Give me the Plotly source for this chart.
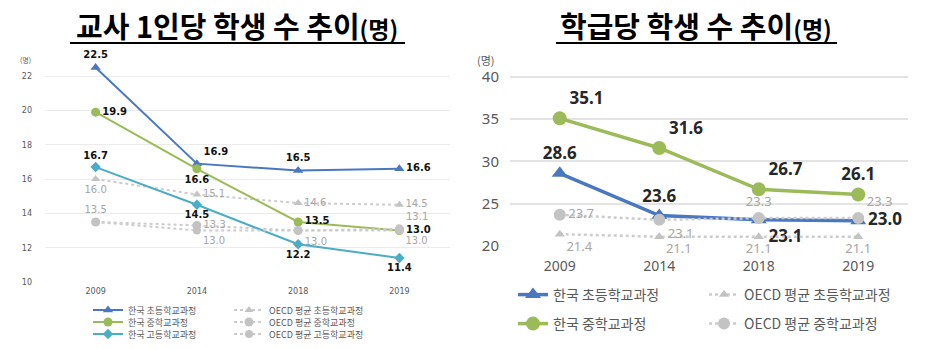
import plotly.graph_objects as go

# ---------------- data ----------------
years = ["2009", "2014", "2018", "2019"]

# left chart: students per teacher
kor_elem_t = [22.5, 16.9, 16.5, 16.6]
kor_mid_t = [19.9, 16.6, 13.5, 13.0]
kor_high_t = [16.7, 14.5, 12.2, 11.4]
oecd_elem_t = [16.0, 15.1, 14.6, 14.5]
oecd_mid_t = [13.5, 13.3, 13.0, 13.1]
oecd_high_t = [13.5, 13.0, 13.0, 13.0]
oecd_high_t_labels = ["", "13.0", "", "13.0"]

# right chart: students per class
kor_elem_c = [28.6, 23.6, 23.1, 23.0]
kor_mid_c = [35.1, 31.6, 26.7, 26.1]
oecd_elem_c = [21.4, 21.1, 21.1, 21.1]
oecd_mid_c = [23.7, 23.1, 23.3, 23.3]

left_ticks = [10, 12, 14, 16, 18, 20, 22]
right_ticks = [20, 25, 30, 35, 40]

# ---------------- styles ----------------
BLUE = "#4a78c0"
GREEN = "#9bbb59"
TEAL = "#4bacc6"
GRAY_M = "#c3c3c3"
GRAY_L = "#cccccc"
GRAY_T = "#a6a6a6"
KFONT = "Noto Sans CJK KR"
W, H = 933, 349

def fmt(v):
    return [f"{x:.1f}" for x in v]

fig = go.Figure()

# left chart font styles
lb = dict(family="DejaVu Sans", size=10, color="#111111", weight="bold")
lg = dict(family="DejaVu Sans", size=10, color=GRAY_T)

# left traces (interleaved order for legend rows)
fig.add_trace(go.Scatter(x=years, y=kor_elem_t, name="한국 초등학교과정", mode="lines+markers+text",
    line=dict(color=BLUE, width=2), marker=dict(symbol="triangle-up", size=9, color=BLUE),
    text=fmt(kor_elem_t), textposition=["top center", "top right", "top center", "middle right"],
    textfont=lb, cliponaxis=False, xaxis="x", yaxis="y", legend="legend"))
fig.add_trace(go.Scatter(x=years, y=oecd_elem_t, name="OECD 평균 초등학교과정", mode="lines+markers+text",
    line=dict(color=GRAY_L, width=2, dash="dot"), marker=dict(symbol="triangle-up", size=8, color=GRAY_M),
    text=fmt(oecd_elem_t), textposition=["bottom center", "middle right", "middle right", "middle right"],
    textfont=lg, cliponaxis=False, xaxis="x", yaxis="y", legend="legend"))
fig.add_trace(go.Scatter(x=years, y=kor_mid_t, name="한국 중학교과정", mode="lines+markers+text",
    line=dict(color=GREEN, width=2), marker=dict(symbol="circle", size=9, color=GREEN),
    text=fmt(kor_mid_t), textposition=["middle right", "bottom center", "middle right", "middle right"],
    textfont=lb, cliponaxis=False, xaxis="x", yaxis="y", legend="legend2"))
fig.add_trace(go.Scatter(x=years, y=oecd_mid_t, name="OECD 평균 중학교과정", mode="lines+markers+text",
    line=dict(color=GRAY_L, width=2, dash="dot"), marker=dict(symbol="circle", size=9, color=GRAY_M),
    text=fmt(oecd_mid_t), textposition=["top center", "middle right", "bottom right", "top right"],
    textfont=lg, cliponaxis=False, xaxis="x", yaxis="y", legend="legend2"))
fig.add_trace(go.Scatter(x=years, y=kor_high_t, name="한국 고등학교과정", mode="lines+markers+text",
    line=dict(color=TEAL, width=2), marker=dict(symbol="diamond", size=8, color=TEAL),
    text=fmt(kor_high_t), textposition=["top center", "bottom center", "bottom center", "bottom center"],
    textfont=lb, cliponaxis=False, xaxis="x", yaxis="y", legend="legend3"))
fig.add_trace(go.Scatter(x=years, y=oecd_high_t, name="OECD 평균 고등학교과정", mode="lines+markers+text",
    line=dict(color=GRAY_L, width=2, dash="dot"), marker=dict(symbol="circle", size=8, color=GRAY_M),
    text=oecd_high_t_labels, textposition=["bottom right", "bottom right", "bottom right", "bottom right"],
    textfont=lg, cliponaxis=False, xaxis="x", yaxis="y", legend="legend3"))

# right chart font styles
rb = dict(family="Noto Sans", size=17, color="#262626", weight="bold")
rg = dict(family="Noto Sans", size=13, color=GRAY_T)

fig.add_trace(go.Scatter(x=years, y=kor_elem_c, name="한국 초등학교과정", mode="lines+markers+text",
    line=dict(color=BLUE, width=3.5), marker=dict(symbol="triangle-up", size=14, color=BLUE),
    text=fmt(kor_elem_c), textposition=["top center", "top center", "bottom right", "middle right"],
    textfont=rb, cliponaxis=False, xaxis="x2", yaxis="y2", legend="legend4"))
fig.add_trace(go.Scatter(x=years, y=oecd_elem_c, name="OECD 평균 초등학교과정", mode="lines+markers+text",
    line=dict(color=GRAY_L, width=2.5, dash="dot"), marker=dict(symbol="triangle-up", size=9, color=GRAY_M),
    text=fmt(oecd_elem_c), textposition=["bottom right", "bottom right", "bottom center", "bottom center"],
    textfont=rg, cliponaxis=False, xaxis="x2", yaxis="y2", legend="legend4"))
fig.add_trace(go.Scatter(x=years, y=kor_mid_c, name="한국 중학교과정", mode="lines+markers+text",
    line=dict(color=GREEN, width=3.5), marker=dict(symbol="circle", size=14, color=GREEN),
    text=fmt(kor_mid_c), textposition=["top right", "top right", "top right", "top center"],
    textfont=rb, cliponaxis=False, xaxis="x2", yaxis="y2", legend="legend5"))
fig.add_trace(go.Scatter(x=years, y=oecd_mid_c, name="OECD 평균 중학교과정", mode="lines+markers+text",
    line=dict(color=GRAY_L, width=2.5, dash="dot"), marker=dict(symbol="circle", size=12, color=GRAY_M),
    text=fmt(oecd_mid_c), textposition=["middle right", "bottom right", "top center", "top right"],
    textfont=rg, cliponaxis=False, xaxis="x2", yaxis="y2", legend="legend5"))

def px(x):
    return x / W

def py(y):
    return 1 - y / H

common_x = dict(type="category", range=[-0.5, 3.5], showgrid=False, zeroline=False,
                showline=False, ticks="", fixedrange=True)

def legend_cfg(x, y, size, ew):
    return dict(orientation="h", x=px(x), y=py(y), xanchor="left", yanchor="middle",
                bgcolor="rgba(0,0,0,0)", font=dict(family=KFONT, size=size, color="#595959"),
                entrywidth=ew, itemclick=False, itemdoubleclick=False)

fig.update_layout(
    width=W, height=H, margin=dict(l=0, r=0, t=0, b=0, autoexpand=False),
    paper_bgcolor="white", plot_bgcolor="white", showlegend=True,
    xaxis=dict(**common_x, domain=[px(45), px(450)], anchor="y", ticklabelstandoff=3,
               tickfont=dict(family="DejaVu Sans", size=8, color="#595959")),
    yaxis=dict(domain=[py(282), py(59)], range=[10, 23], tickvals=left_ticks, anchor="x",
               showgrid=True, gridcolor="#ebebeb", gridwidth=1, zeroline=False, showline=False,
               tickfont=dict(family="DejaVu Sans", size=8, color="#595959"), ticklabelstandoff=12,
               fixedrange=True),
    xaxis2=dict(**common_x, domain=[px(510), px(908)], anchor="y2", ticklabelstandoff=10,
                tickfont=dict(family="Noto Sans", size=14, color="#595959")),
    yaxis2=dict(domain=[py(246), py(68.5)], range=[20, 41], tickvals=right_ticks, anchor="x2",
                showgrid=True, gridcolor="#e3e3e3", gridwidth=1.5, zeroline=False, showline=False,
                tickfont=dict(family="Noto Sans", size=15, color="#595959"), ticklabelstandoff=10,
                fixedrange=True),
    legend=legend_cfg(88, 310, 9, 96),
    legend2=legend_cfg(88, 322, 9, 96),
    legend3=legend_cfg(88, 334, 9, 96),
    legend4=legend_cfg(513, 295, 14, 146),
    legend5=legend_cfg(513, 324, 14, 146),
    annotations=[
        dict(text="교사 1인당 학생 수 추이<span style='font-size:23px'>(명)</span>",
             x=px(237), y=py(25), xref="paper", yref="paper", showarrow=False,
             xanchor="center", yanchor="middle",
             font=dict(family=KFONT, size=29, color="black", weight="bold")),
        dict(text="학급당 학생 수 추이<span style='font-size:23px'>(명)</span>",
             x=px(696), y=py(25), xref="paper", yref="paper", showarrow=False,
             xanchor="center", yanchor="middle",
             font=dict(family=KFONT, size=29, color="black", weight="bold")),
        dict(text="(명)", x=px(25), y=py(60), xref="paper", yref="paper", showarrow=False,
             xanchor="center", yanchor="middle",
             font=dict(family=KFONT, size=7, color="#595959")),
        dict(text="(명)", x=px(486), y=py(60), xref="paper", yref="paper", showarrow=False,
             xanchor="center", yanchor="middle",
             font=dict(family=KFONT, size=11, color="#595959")),
    ],
    shapes=[
        dict(type="line", xref="paper", yref="paper", x0=px(70), x1=px(405), y0=py(43), y1=py(43),
             line=dict(color="black", width=2)),
        dict(type="line", xref="paper", yref="paper", x0=px(556), x1=px(837), y0=py(43), y1=py(43),
             line=dict(color="black", width=2)),
    ],
)

fig.write_html("out.html")
